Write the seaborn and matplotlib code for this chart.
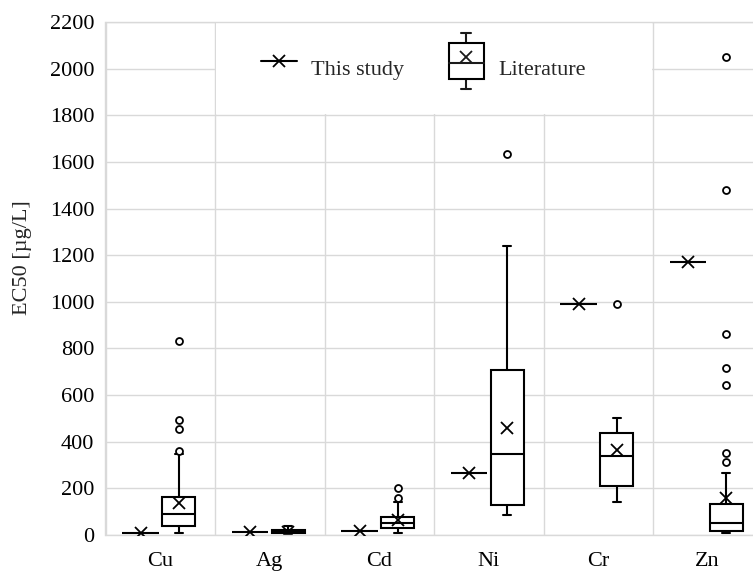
import numpy as np
import pandas as pd
import matplotlib
matplotlib.use("Agg")
import matplotlib.pyplot as plt
import seaborn as sns
from matplotlib import font_manager as fm
from matplotlib.legend_handler import HandlerBase
from matplotlib.patches import Rectangle
from matplotlib.lines import Line2D

# ---------------- data ----------------
metals = ["Cu", "Ag", "Cd", "Ni", "Cr", "Zn"]
this_study = [9, 11, 19, 267, 990, 1169]

lit_cu = [8, 12, 15, 20, 24, 28, 30, 33, 36, 39, 41, 44, 48, 52, 57, 62, 70, 80,
          91, 94, 98, 102, 108, 115, 122, 130, 140, 163, 170, 180, 200, 220,
          346, 360, 456, 492, 832]
lit_ag = [2, 3, 5, 7, 9, 11, 12, 14, 17, 20, 25, 32, 38]
lit_cd = [10, 15, 20, 25, 28, 31, 35, 40, 44, 47, 50, 55, 60, 66, 72, 78,
          95, 115, 140, 160, 200]
lit_ni = [86, 95, 105, 118, 128, 140, 170, 240, 347, 370, 410, 480, 707,
          720, 800, 1241, 1632]
lit_cr = [143, 160, 185, 210, 250, 300, 339, 370, 410, 439, 460, 500, 990]
lit_zn = [8, 9, 10, 10, 11, 11, 12, 12, 13, 13, 14, 14, 15, 15, 16, 16,
          17, 18, 20, 22, 24, 26, 28, 30, 32, 34, 36, 38, 41, 44, 47, 50,
          53, 56, 60, 64, 68, 72, 76, 80, 85, 90, 95, 100, 106, 112, 118, 125,
          131, 140, 150, 160, 170, 180, 200, 220, 240, 264, 312, 350, 642,
          716, 863, 1481, 2050]
literature = [lit_cu, lit_ag, lit_cd, lit_ni, lit_cr, lit_zn]

y_ticks = list(range(0, 2201, 200))
y_tick_labels = [str(v) for v in y_ticks]

# ---------------- style ----------------
sns.set_theme(style="white")
SERIF = ["Liberation Serif", "DejaVu Serif"]
plt.rcParams["font.family"] = SERIF
plt.rcParams["font.serif"] = SERIF
plt.rcParams["mathtext.fontset"] = "stix"

serif_path = fm.findfont(fm.FontProperties(family="Liberation Serif"))
FP = fm.FontProperties(fname=serif_path, size=16)

GRID = "#d9d9d9"

fig = plt.figure(figsize=(7.53, 5.72), dpi=100)
ax = fig.add_axes([105.5 / 753, 37 / 572, 657 / 753, 513 / 572])

idx = np.arange(len(metals))
lit_offset = 0.17
study_offset = -0.18

df = pd.DataFrame({
    "pos": np.concatenate([[i + lit_offset] * len(v) for i, v in zip(idx, literature)]),
    "EC50": np.concatenate([np.asarray(v, dtype=float) for v in literature]),
})

sns.boxplot(
    data=df, x="pos", y="EC50", native_scale=True, width=0.3,
    color="white", linecolor="black", linewidth=1.5, saturation=1,
    showmeans=True,
    meanprops=dict(marker="x", markeredgecolor="black", markerfacecolor="black",
                   markersize=8, markeredgewidth=1.3),
    flierprops=dict(marker="o", markerfacecolor="white", markeredgecolor="black",
                    markersize=5, markeredgewidth=1.3),
    capwidths=0.075,
    ax=ax, zorder=2,
)

ax.errorbar(idx + study_offset, this_study, xerr=0.165, fmt="x", color="black",
            ms=8, mew=1.3, elinewidth=1.5, capsize=0, zorder=3)

# axes styling
ax.set_xlim(-0.5, 5.5)
ax.set_ylim(0, 2200)
ax.set_yticks(y_ticks, labels=y_tick_labels)
ax.set_xticks(idx, labels=metals)
ax.set_xticks(np.arange(-0.5, 6.0, 1.0), minor=True)
ax.set_axisbelow(True)
ax.grid(False)
ax.yaxis.grid(True, which="major", color=GRID, lw=1)
ax.xaxis.grid(True, which="minor", color=GRID, lw=1)
ax.tick_params(axis="both", which="both", length=0, labelsize=16, colors="black")
ax.tick_params(axis="y", pad=8)
ax.tick_params(axis="x", pad=12)
for lab in ax.get_xticklabels() + ax.get_yticklabels():
    lab.set_fontproperties(FP)
for s in ax.spines.values():
    s.set_color(GRID)
    s.set_linewidth(1)
ax.set_xlabel("")
ax.set_ylabel("EC50 [µg/L]", fontproperties=FP)
ax.yaxis.set_label_coords(-0.112, 0.54)

# white area behind legend
ax.add_patch(Rectangle((0.51, 1804), 3.98, 396, facecolor="white",
                       edgecolor="none", zorder=0.8))


class BoxIconHandler(HandlerBase):
    def create_artists(self, legend, orig_handle, xdescent, ydescent, width,
                       height, fontsize, trans):
        cx = -xdescent + width / 2
        cy = (height - ydescent) / 2
        bw = width * 0.95
        bh = fontsize * 1.6
        wh = fontsize * 2.55
        cw = fontsize * 0.45
        lw = 1.5
        arts = [
            Line2D([cx, cx], [cy + bh / 2, cy + wh / 2], color="k", lw=lw),
            Line2D([cx, cx], [cy - bh / 2, cy - wh / 2], color="k", lw=lw),
            Line2D([cx - cw / 2, cx + cw / 2], [cy + wh / 2] * 2, color="k", lw=lw),
            Line2D([cx - cw / 2, cx + cw / 2], [cy - wh / 2] * 2, color="k", lw=lw),
            Rectangle((cx - bw / 2, cy - bh / 2), bw, bh, facecolor="white",
                      edgecolor="black", lw=lw),
            Line2D([cx - bw / 2, cx + bw / 2], [cy - 0.07 * bh] * 2, color="k", lw=lw),
            Line2D([cx], [cy + 0.12 * bh], marker="x", ms=8, mew=1.3, color="k",
                   ls="none"),
        ]
        for a in arts:
            a.set_transform(trans)
        return arts


study_handle = Line2D([], [], color="black", marker="x", ms=8, mew=1.3, lw=1.5)
box_handle = Rectangle((0, 0), 1, 1)
ax.legend([study_handle, box_handle], ["This study", "Literature"],
          handler_map={box_handle: BoxIconHandler()},
          loc="center", bbox_to_anchor=(2.40, 2000),
          bbox_transform=ax.transData, ncol=2, frameon=False,
          handlelength=1.65, handleheight=2.7, handletextpad=0.6,
          columnspacing=2.0, borderpad=0, prop=FP)

fig.savefig("out.png", dpi=100)
